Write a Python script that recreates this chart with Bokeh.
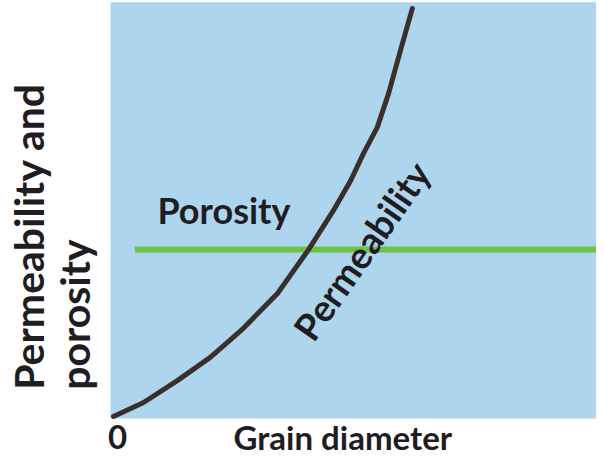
from bokeh.plotting import figure
from bokeh.models import Label, Range1d, BoxAnnotation
from bokeh.embed import file_html
from bokeh.resources import INLINE

# Permeability curve (grain diameter vs permeability), 0-100 scale
perm_x = [0.6, 6.7, 13.6, 20.2, 26.9, 33.8, 40.1, 45.1, 48.6, 51.2, 54.0, 56.3, 58.7, 61.1]
perm_y = [0.5, 3.9, 9.3, 14.9, 22.0, 30.5, 41.2, 50.7, 58.0, 64.6, 71.0, 79.3, 89.8, 100.0]

# Porosity line (constant)
por_x = [4.9, 100.0]
por_y = [41.2, 41.2]

FONT = "Lato"
TXT = "#1f1d22"

# frame covers the whole figure; the blue panel is drawn as a box
p = figure(width=596, height=460, output_backend="svg", toolbar_location=None,
           x_range=Range1d(-110 / 4.94, 486 / 4.94), y_range=Range1d(-42 / 4.1, 418 / 4.1),
           min_border_left=0, min_border_right=0, min_border_top=0, min_border_bottom=0)
p.background_fill_color = "white"
p.border_fill_color = "white"
p.outline_line_color = None
p.xaxis.visible = False
p.yaxis.visible = False
p.grid.visible = False

p.add_layout(BoxAnnotation(left=0, right=100, bottom=0, top=101.5,
                           fill_color="#aed5ee", fill_alpha=1.0, line_color=None,
                           level="underlay"))

p.line(por_x, por_y, line_color="#6fc248", line_width=6)
p.line(perm_x, perm_y, line_color="#3a2f2b", line_width=5, line_join="round", line_cap="round")

def lab(x, y, t, size, angle=0, align="left"):
    p.add_layout(Label(x=x, y=y, text=t, text_font=FONT, text_font_style="bold",
                       text_font_size=f"{size}px", text_color=TXT, angle=angle,
                       angle_units="deg", text_align=align, text_baseline="middle"))

lab(9.5, 50.8, "Porosity", 36)
lab(50.8, 41.0, "Permeability", 37, angle=55, align="center")
lab(-16.6, 7.0, "Permeability and", 41, angle=90)
lab(-7.2, 7.0, "porosity", 41, angle=90)
lab(1.42, -4.5, "0", 33, align="center")
lab(24.9, -4.5, "Grain diameter", 33)

open("out.html", "w").write(file_html(p, INLINE))
